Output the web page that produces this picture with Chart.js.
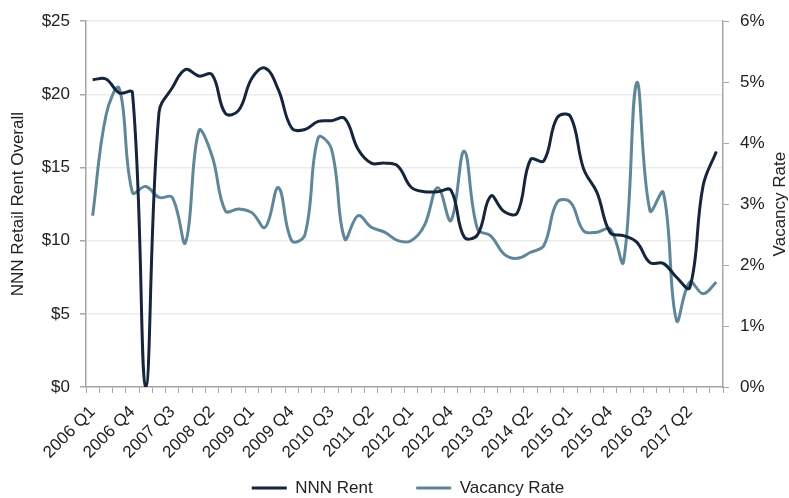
<!DOCTYPE html>
<html>
<head>
<meta charset="utf-8">
<script src="https://cdn.jsdelivr.net/npm/chart.js@4/dist/chart.umd.min.js"></script>
<style>
  html, body { margin: 0; padding: 0; background: #ffffff; }
  #wrap { width: 789px; height: 498px; }
</style>
</head>
<body>
<div id="wrap"><canvas id="c" width="789" height="498"></canvas></div>
<script>
// ---- Data ----
const categories = [
  "2006 Q1","2006 Q2","2006 Q3","2006 Q4",
  "2007 Q1","2007 Q2","2007 Q3","2007 Q4",
  "2008 Q1","2008 Q2","2008 Q3","2008 Q4",
  "2009 Q1","2009 Q2","2009 Q3","2009 Q4",
  "2010 Q1","2010 Q2","2010 Q3","2010 Q4",
  "2011 Q1","2011 Q2","2011 Q3","2011 Q4",
  "2012 Q1","2012 Q2","2012 Q3","2012 Q4",
  "2013 Q1","2013 Q2","2013 Q3","2013 Q4",
  "2014 Q1","2014 Q2","2014 Q3","2014 Q4",
  "2015 Q1","2015 Q2","2015 Q3","2015 Q4",
  "2016 Q1","2016 Q2","2016 Q3","2016 Q4",
  "2017 Q1","2017 Q2","2017 Q3","2017 Q4"
];

// NNN Retail Rent Overall ($)
const nnnRent = [
  21.0, 21.05, 20.1, 20.1,
  0.0, 18.75, 20.45, 21.7,
  21.25, 21.35, 18.7, 18.9,
  21.1, 21.8, 20.3, 17.7,
  17.6, 18.15, 18.2, 18.35,
  16.25, 15.3, 15.3, 15.1,
  13.65, 13.35, 13.35, 13.45,
  10.25, 10.4, 13.05, 12.0,
  11.9, 15.55, 15.45, 18.4,
  18.5, 14.9, 13.3, 10.55,
  10.35, 9.9, 8.5, 8.45,
  7.5, 6.8, 13.75, 16.1
];

// Vacancy Rate (%)
const vacancyRate = [
  2.81, 4.45, 4.9, 3.19,
  3.29, 3.11, 3.11, 2.37,
  4.2, 3.79, 2.89, 2.92,
  2.86, 2.62, 3.27, 2.4,
  2.5, 4.09, 3.9, 2.43,
  2.81, 2.62, 2.54, 2.4,
  2.4, 2.65, 3.27, 2.73,
  3.87, 2.59, 2.48, 2.18,
  2.11, 2.21, 2.32, 3.03,
  3.03, 2.56, 2.54, 2.59,
  2.05, 4.99, 2.89, 3.19,
  1.09, 1.72, 1.53, 1.72
];

const rentTicks = [0, 5, 10, 15, 20, 25];
const vacancyTicks = [0, 1, 2, 3, 4, 5, 6];
const labelEvery = 3;

// ---- Styling ----
const NAVY = '#15253b';
const STEEL = '#5f8799';
const TEXT = '#222222';
const AXIS = '#a6a6a6';
const GRID = '#ebebeb';
const FONT = "'Liberation Sans', Arial, sans-serif";

const rightTitlePlugin = {
  id: 'rightTitle',
  afterDraw(chart) {
    const ctx = chart.ctx;
    const area = chart.chartArea;
    ctx.save();
    ctx.translate(780, (area.top + area.bottom) / 2);
    ctx.rotate(-Math.PI / 2);
    ctx.font = "17px " + FONT;
    ctx.fillStyle = TEXT;
    ctx.textAlign = 'center';
    ctx.textBaseline = 'middle';
    ctx.fillText('Vacancy Rate', 0, 0);
    ctx.restore();
  }
};

new Chart(document.getElementById('c'), {
  type: 'line',
  data: {
    labels: categories,
    datasets: [
      {
        label: 'NNN Rent',
        data: nnnRent,
        yAxisID: 'y',
        borderColor: NAVY,
        backgroundColor: NAVY,
        borderWidth: 3,
        pointRadius: 0,
        tension: 0.4,
        fill: false
      },
      {
        label: 'Vacancy Rate',
        data: vacancyRate,
        yAxisID: 'y1',
        borderColor: STEEL,
        backgroundColor: STEEL,
        borderWidth: 3,
        pointRadius: 0,
        tension: 0.4,
        fill: false
      }
    ]
  },
  options: {
    responsive: false,
    devicePixelRatio: 1,
    animation: false,
    layout: { padding: { left: 27, right: 0, top: 20, bottom: 0 } },
    plugins: {
      tooltip: { enabled: false },
      legend: {
        position: 'bottom',
        maxHeight: 18.5,
        labels: {
          usePointStyle: true,
          pointStyle: 'line',
          pointStyleWidth: 35,
          padding: 0,
          color: TEXT,
          font: { family: FONT, size: 17 },
          generateLabels(chart) {
            const items = Chart.defaults.plugins.legend.labels.generateLabels(chart);
            // transparent spacer between the two entries
            const spacer = {
              text: '',
              fillStyle: 'rgba(0,0,0,0)',
              strokeStyle: 'rgba(0,0,0,0)',
              fontColor: TEXT,
              lineWidth: 0,
              pointStyle: 'line',
              hidden: false,
              datasetIndex: -1
            };
            return [items[0], spacer, items[1]];
          }
        }
      }
    },
    scales: {
      x: {
        type: 'category',
        offset: true,
        afterFit(s) { s.height = 92.5; },
        grid: {
          offset: true,
          drawOnChartArea: false,
          drawTicks: true,
          tickLength: 6,
          tickColor: AXIS,
          color: AXIS
        },
        border: { color: AXIS, width: 1.5 },
        ticks: {
          autoSkip: false,
          minRotation: 45,
          maxRotation: 45,
          padding: 9,
          color: TEXT,
          font: { family: FONT, size: 17 },
          callback(value, index) {
            return index % labelEvery === 0 ? categories[index] : '';
          }
        }
      },
      y: {
        position: 'left',
        min: rentTicks[0],
        max: rentTicks[rentTicks.length - 1],
        afterFit(s) { s.width = 59; },
        afterBuildTicks(s) { s.ticks = rentTicks.map(v => ({ value: v })); },
        grid: {
          color: GRID,
          lineWidth: 1.5,
          drawTicks: true,
          tickLength: 6,
          tickColor: AXIS
        },
        border: { color: AXIS, width: 1.5 },
        ticks: {
          padding: 10,
          color: TEXT,
          font: { family: FONT, size: 17 },
          callback(v) { return '$' + v; }
        },
        title: {
          display: true,
          text: 'NNN Retail Rent Overall',
          color: TEXT,
          font: { family: FONT, size: 17 },
          padding: { top: -19.2, bottom: 0 }
        }
      },
      y1: {
        position: 'right',
        min: vacancyTicks[0],
        max: vacancyTicks[vacancyTicks.length - 1],
        afterFit(s) { s.width = 66; },
        afterBuildTicks(s) { s.ticks = vacancyTicks.map(v => ({ value: v })); },
        grid: {
          drawOnChartArea: false,
          drawTicks: true,
          tickLength: 6,
          tickColor: AXIS,
          color: AXIS
        },
        border: { color: AXIS, width: 1.5 },
        ticks: {
          padding: 11,
          color: TEXT,
          font: { family: FONT, size: 17 },
          callback(v) { return v + '%'; }
        }
      }
    }
  },
  plugins: [rightTitlePlugin]
});
</script>
</body>
</html>
